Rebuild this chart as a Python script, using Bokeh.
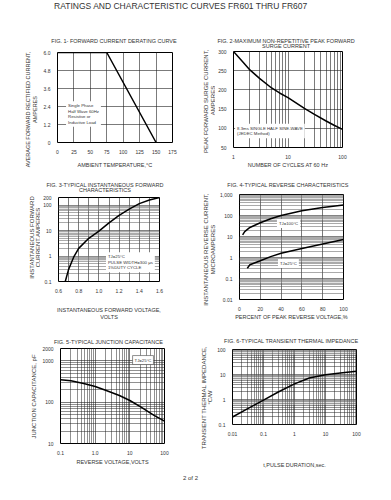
import math
from bokeh.plotting import figure
from bokeh.layouts import column, row
from bokeh.models import FixedTicker, Label, BoxAnnotation, Range1d
from bokeh.embed import file_html
from bokeh.resources import INLINE
from bokeh.core.properties import value

FONT = "Liberation Sans"
TXT = "#333333"

# ---------------- data ----------------
main_title = "RATINGS AND CHARACTERISTIC CURVES FR601 THRU FR607"
page_note = "2 of 2"

fig1_temp = [0, 75, 150]
fig1_current = [6.0, 6.0, 0.0]
fig1_xticks = [0, 25, 50, 75, 100, 125, 150, 175]
fig1_yticks = [0, 1.2, 2.4, 3.6, 4.8, 6.0]
fig1_ylabels = ["0", "1.2", "2.4", "3.6", "4.8", "6.0"]

fig2_cycles = [1, 1.5, 2, 3, 5, 7, 10, 20, 30, 50, 70, 100]
fig2_surge = [300, 272, 252, 230, 205, 192, 180, 152, 137, 119, 108, 97]
fig2_xticks = [1, 10, 100]
fig2_yticks = [50, 100, 150, 200, 250, 300]

fig3_volts = [0.667, 0.7, 0.75, 0.8, 0.9, 1.0, 1.1, 1.2, 1.3, 1.4, 1.5, 1.6]
fig3_amps = [0.1, 0.3, 0.9, 2.0, 5.0, 9.5, 20, 40, 70, 115, 160, 200]
fig3_xticks = [0.6, 0.8, 1.0, 1.2, 1.4, 1.6]
fig3_xlabels = ["0.6", "0.8", "1.0", "1.2", "1.4", "1.6"]
fig3_yticks = [0.1, 1, 10, 100, 200]
fig3_ylabels = ["0.1", "1", "10", "100", "200"]

fig4_pct_hot = [3, 5, 10, 20, 30, 40, 60, 80, 100]
fig4_ua_hot = [12, 17, 27, 45, 70, 100, 170, 240, 320]
fig4_pct_cold = [7.5, 10, 20, 30, 40, 60, 80, 100]
fig4_ua_cold = [0.31, 0.45, 0.7, 1.1, 1.6, 2.7, 4.4, 7.2]
fig4_xticks = [0, 20, 40, 60, 80, 100]
fig4_yticks = [0.01, 0.1, 1, 10, 100, 1000]
fig4_ylabels = ["0.01", "0.1", "1", "10", "100", "1,000"]

fig5_volts = [0.1, 0.2, 0.5, 1, 2, 5, 10, 20, 50, 100]
fig5_pf = [350, 330, 280, 240, 195, 145, 110, 78, 48, 35]
fig5_xticks = [0.1, 1, 10, 100]
fig5_xlabels = ["0.1", "1.0", "10", "100"]
fig5_yticks = [10, 100, 1000, 2000]
fig5_ylabels = ["10", "100", "1000", "2000"]

fig6_sec = [0.01, 0.03, 0.1, 0.3, 1, 3, 10, 30, 100]
fig6_cw = [0.2, 0.42, 0.95, 2.0, 4.2, 7.2, 9.8, 11.5, 13.5]
fig6_xticks = [0.01, 0.1, 1, 10, 100]
fig6_xlabels = ["0.01", "0.1", "1", "10", "100"]
fig6_yticks = [0.1, 1, 10, 100]
fig6_ylabels = ["0.1", "1", "10", "100"]


def log_minor(lo_exp, hi_exp):
    return [m * 10 ** k for k in range(lo_exp, hi_exp) for m in range(2, 10)]


def blank(w, h):
    p = figure(width=w, height=h, x_range=(0, w), y_range=(0, h),
               x_axis_location=None, y_axis_location=None, min_border=0,
               output_backend="svg", toolbar_location=None, frame_align=False)
    p.outline_line_color = None
    p.grid.visible = False
    return p


def title_fig(w, h, cx, lines, ys):
    t = blank(w, h)
    t.text(x=[cx] * len(lines), y=ys, text=lines, text_font=value(FONT),
           text_font_size="5.5px", text_color=TXT, text_align="center",
           text_baseline="middle")
    return t


def ylabel_fig(w, h, xs, cy, lines, size="6px"):
    t = blank(w, h)
    t.text(x=xs, y=[cy] * len(lines), text=lines, angle=math.pi / 2,
           text_font=value(FONT), text_font_size=size, text_color=TXT,
           text_align="center", text_baseline="middle")
    return t


def panel(w, h, bl, br, bt, bb, xr, yr, xt="linear", yt="linear"):
    p = figure(width=w, height=h, min_border_left=bl, min_border_right=br,
               min_border_top=bt, min_border_bottom=bb, x_range=xr, y_range=yr,
               x_axis_type=xt, y_axis_type=yt, output_backend="svg",
               toolbar_location=None, frame_align=False)
    p.outline_line_color = "black"
    p.outline_line_width = 1
    for ax in p.axis:
        ax.major_tick_line_color = None
        ax.minor_tick_line_color = None
        ax.axis_line_color = None
        ax.major_label_text_font = FONT
        ax.major_label_text_font_size = "5px"
        ax.major_label_text_color = TXT
        ax.major_label_standoff = 1
        ax.axis_label_text_font = FONT
        ax.axis_label_text_font_style = "normal"
        ax.axis_label_text_color = TXT
        ax.axis_label_text_font_size = "5.5px"
    for g in (p.xgrid, p.ygrid):
        g.grid_line_color = "#222222"
        g.grid_line_width = 0.6
        g.grid_line_alpha = 1
    return p


def note(p, x, y, text, border=False):
    lab = Label(x=x, y=y, text=text, text_font=FONT, text_font_size="4.3px",
                text_color=TXT, text_baseline="top", text_line_height=1.1,
                background_fill_color="white", background_fill_alpha=1,
                padding=2)
    if border:
        lab.border_line_color = "#444444"
        lab.border_line_width = 0.6
    p.add_layout(lab)


def bands(p, exps):
    for k in exps:
        p.add_layout(BoxAnnotation(bottom=0.6 * 10 ** k, top=10 ** k,
                                   fill_color="#b0b0b0", fill_alpha=0.35,
                                   line_color=None, level="underlay"))


# ---------------- header ----------------
head = blank(375, 30)
head.text(x=[180.5], y=[25], text=[main_title], text_font=value(FONT),
          text_font_size="8.5px", text_color=TXT, text_align="center",
          text_baseline="middle")

# ---------------- row 1 ----------------
t1 = title_fig(195, 18, 113.5, ["FIG. 1- FORWARD CURRENT DERATING CURVE"], [8])
t2 = title_fig(180, 18, 90.5,
               ["FIG. 2-MAXIMUM NON-REPETITIVE PEAK FORWARD", "SURGE CURRENT"],
               [7.3, 2.7])

y1 = ylabel_fig(40, 122, [27.5, 34.5], 61,
                ["AVERAGE FORWARD RECTIFIED CURRENT,", "AMPERES"], "5.5px")
p1 = panel(155, 122, 15, 23, 4, 25, Range1d(0, 175), Range1d(0, 6.0))
p1.xaxis.ticker = FixedTicker(ticks=fig1_xticks)
p1.yaxis.ticker = FixedTicker(ticks=fig1_yticks)
p1.yaxis.major_label_overrides = dict(zip(fig1_yticks, fig1_ylabels))
p1.xaxis.axis_label = "AMBIENT TEMPERATURE,°C"
p1.xaxis.axis_label_standoff = 5
p1.line(fig1_temp, fig1_current, line_color="black", line_width=1.5)
note(p1, 13, 2.75, "Single Phase\nHalf Wave 60Hz\nResistive or\nInductive Load")

y2 = ylabel_fig(20, 122, [10, 17], 70, ["PEAK  FORWARD SURGE CURRENT,", "AMPERES"])
p2 = panel(160, 122, 14, 33, 3, 18, Range1d(1, 100), Range1d(50, 300), xt="log")
p2.xaxis.ticker = FixedTicker(ticks=fig2_xticks, minor_ticks=log_minor(0, 2))
p2.xaxis.major_label_overrides = {t: str(t) for t in fig2_xticks}
p2.yaxis.ticker = FixedTicker(ticks=fig2_yticks)
p2.xgrid.minor_grid_line_color = "#222222"
p2.xgrid.minor_grid_line_width = 0.6
p2.xaxis.axis_label = "NUMBER OF CYCLES AT 60 Hz"
p2.xaxis.axis_label_standoff = 0
p2.line(fig2_cycles, fig2_surge, line_color="black", line_width=1.5)
note(p2, 1.07, 112, "8.3ms SINGLE HALF SINE-WAVE\n(JEDEC Method)")

# ---------------- row 2 ----------------
t3 = title_fig(195, 22, 104.5,
               ["FIG. 3-TYPICAL INSTANTANEOUS FORWARD", "CHARACTERISTICS"],
               [8, 2.7])
t4 = title_fig(180, 22, 92.5, ["FIG. 4-TYPICAL REVERSE CHARACTERISTICS"], [8])

y3 = ylabel_fig(40, 130, [31.5, 37.5], 85,
                ["INSTANTANEOUS FORWARD", "CURRENT,AMPERES"])
p3 = panel(155, 130, 10, 36, 5, 37, Range1d(0.6, 1.6), Range1d(0.1, 200), yt="log")
p3.xaxis.ticker = FixedTicker(ticks=fig3_xticks,
                              minor_ticks=[0.7, 0.9, 1.1, 1.3, 1.5])
p3.xaxis.major_label_overrides = dict(zip(fig3_xticks, fig3_xlabels))
p3.xgrid.minor_grid_line_color = "#222222"
p3.xgrid.minor_grid_line_width = 0.6
p3.yaxis.ticker = FixedTicker(ticks=fig3_yticks, minor_ticks=log_minor(-1, 3))
p3.yaxis.major_label_overrides = dict(zip(fig3_yticks, fig3_ylabels))
p3.ygrid.minor_grid_line_color = "#555555"
p3.ygrid.minor_grid_line_width = 0.5
bands(p3, [0, 1, 2])
p3.xaxis.axis_label = "INSTANTANEOUS FORWARD VOLTAGE,\nVOLTS"
p3.xaxis.axis_label_standoff = 11
p3.line(fig3_volts, fig3_amps, line_color="black", line_width=1.5)
note(p3, 1.07, 1.4, "TJ=25°C\nPULSE WIDTH=300 μs\n1%DUTY CYCLE")

y4 = ylabel_fig(21, 130, [10, 17], 73,
                ["INSTANTANEOUS REVERSE CURRENT,", "MICROAMPERES"])
p4 = panel(159, 130, 16, 32, 2, 19, Range1d(0, 100), Range1d(0.01, 1000), yt="log")
p4.xaxis.ticker = FixedTicker(ticks=fig4_xticks)
p4.yaxis.ticker = FixedTicker(ticks=fig4_yticks, minor_ticks=log_minor(-2, 3))
p4.yaxis.major_label_overrides = dict(zip(fig4_yticks, fig4_ylabels))
p4.ygrid.minor_grid_line_color = "#555555"
p4.ygrid.minor_grid_line_width = 0.5
bands(p4, [-1, 0, 1, 2, 3])
p4.xaxis.axis_label = "PERCENT OF PEAK REVERSE VOLTAGE,%"
p4.xaxis.axis_label_standoff = 0
p4.line(fig4_pct_hot, fig4_ua_hot, line_color="black", line_width=1.5)
p4.line(fig4_pct_cold, fig4_ua_cold, line_color="black", line_width=1.5)
note(p4, 36, 68, "TJ=100°C")
note(p4, 37, 0.85, "TJ=25°C")

# ---------------- row 3 ----------------
t5 = title_fig(195, 22, 108, ["FIG. 5-TYPICAL JUNCTION CAPACITANCE"], [3])
t6 = title_fig(180, 22, 96, ["FIG. 6-TYPICAL TRANSIENT THERMAL IMPEDANCE"], [4])

y5 = ylabel_fig(39, 126, [33], 74, ["JUNCTION CAPACITANCE, pF"])
p5 = panel(156, 126, 13, 31, 4, 27, Range1d(0.1, 100), Range1d(10, 2000),
           xt="log", yt="log")
p5.xaxis.ticker = FixedTicker(ticks=fig5_xticks, minor_ticks=log_minor(-1, 2))
p5.xaxis.major_label_overrides = dict(zip(fig5_xticks, fig5_xlabels))
p5.yaxis.ticker = FixedTicker(ticks=fig5_yticks, minor_ticks=log_minor(1, 4))
p5.yaxis.major_label_overrides = dict(zip(fig5_yticks, fig5_ylabels))
for g in (p5.xgrid, p5.ygrid):
    g.minor_grid_line_color = "#222222"
    g.minor_grid_line_width = 0.5
p5.xaxis.axis_label = "REVERSE VOLTAGE,VOLTS"
p5.xaxis.axis_label_standoff = 1
p5.line(fig5_volts, fig5_pf, line_color="black", line_width=1.5)
note(p5, 12, 1350, "TJ=25°C", border=True)

y6 = ylabel_fig(19, 126, [8, 14], 73, ["TRANSIENT THERMAL IMPEDANCE,", "°C/W"])
p6 = panel(161, 126, 12, 19, 5, 37, Range1d(0.01, 100), Range1d(0.1, 100),
           xt="log", yt="log")
p6.xaxis.ticker = FixedTicker(ticks=fig6_xticks, minor_ticks=log_minor(-2, 2))
p6.xaxis.major_label_overrides = dict(zip(fig6_xticks, fig6_xlabels))
p6.yaxis.ticker = FixedTicker(ticks=fig6_yticks, minor_ticks=log_minor(-1, 2))
p6.yaxis.major_label_overrides = dict(zip(fig6_yticks, fig6_ylabels))
for g in (p6.xgrid, p6.ygrid):
    g.minor_grid_line_color = "#222222"
    g.minor_grid_line_width = 0.5
bands(p6, [-1, 0, 1, 2])
p6.xaxis.axis_label = "t,PULSE DURATION,sec."
p6.xaxis.axis_label_standoff = 23
p6.line(fig6_sec, fig6_cw, line_color="black", line_width=1.5)

# ---------------- footer ----------------
foot = blank(375, 14)
foot.text(x=[190], y=[7], text=[page_note], text_font=value(FONT),
          text_font_size="6px", text_color=TXT, text_align="center",
          text_baseline="middle")

layout = column(head,
                row(t1, t2), row(y1, p1, y2, p2),
                row(t3, t4), row(y3, p3, y4, p4),
                row(t5, t6), row(y5, p5, y6, p6),
                foot)
open("out.html", "w").write(file_html(layout, INLINE))
